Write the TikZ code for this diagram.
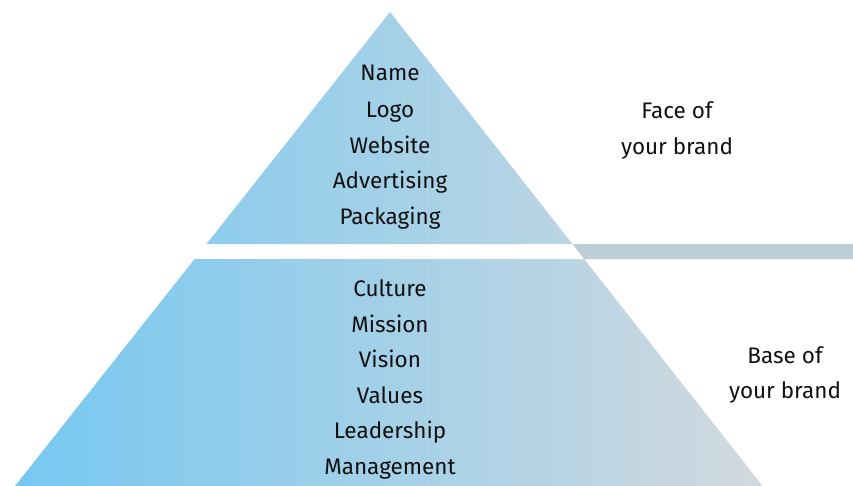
\documentclass[tikz,border=0pt]{standalone}
\usepackage{fontspec}
\setmainfont{Fira Sans}
\definecolor{skyleft}{RGB}{118,200,241}
\definecolor{greyright}{RGB}{210,217,222}
\definecolor{barfill}{RGB}{190,206,217}
\definecolor{inktext}{RGB}{17,17,17}
\begin{document}
\begin{tikzpicture}[x=1pt,y=-1pt,
  label/.style={text=inktext,font=\fontsize{22.5}{26}\selectfont,inner sep=0pt,anchor=base}]
\useasboundingbox (0,0) rectangle (853,486);
% pyramid corners
\coordinate (apex) at (390,12);
\coordinate (tl) at (206.5,244);
\coordinate (tr) at (572.4,244);
\coordinate (bl) at (194.6,259);
\coordinate (br) at (584.1,259);
\coordinate (fl) at (15,486);
\coordinate (fr) at (762.6,486);
% band to the right of the gap
\fill[barfill] (tr) -- (853,244) -- (853,259) -- (br) -- cycle;
% both pyramid parts share one horizontal gradient
\begin{scope}
  \clip (apex) -- (tr) -- (tl) -- cycle
        (bl) -- (br) -- (fr) -- (fl) -- cycle;
  \shade[left color=skyleft,right color=greyright] (15,0) rectangle (763,486);
\end{scope}
% upper part (baselines)
\node[label] (name) at (390,81) {Name};
\node[label] (logo) at (390,118) {Logo};
\node[label] (web) at (390,154) {Website};
\node[label] (adv) at (390,189) {Advertising};
\node[label] (pack) at (390,225) {Packaging};
% lower part
\node[label] (cult) at (390,296) {Culture};
\node[label] (miss) at (390,332) {Mission};
\node[label] (vis) at (390,367) {Vision};
\node[label] (val) at (390,403) {Values};
\node[label] (lead) at (390,438) {Leadership};
\node[label] (mgmt) at (390,474) {Management};
% side captions
\node[label] (face1) at (677,119) {Face of};
\node[label] (face2) at (677,155) {your brand};
\node[label] (base1) at (785,363) {Base of};
\node[label] (base2) at (785,398) {your brand};
\end{tikzpicture}
\end{document}
